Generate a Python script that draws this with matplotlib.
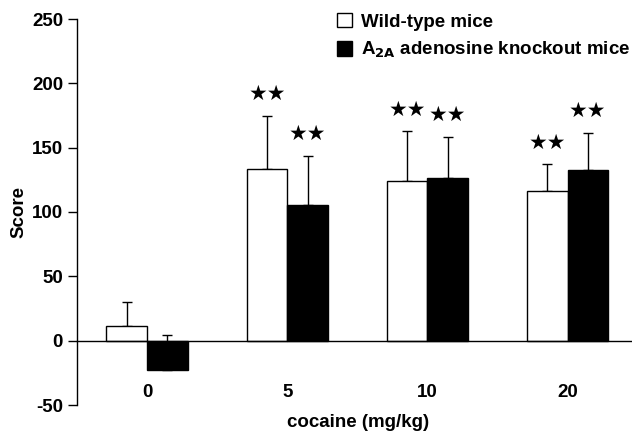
import numpy as np
import matplotlib
matplotlib.use("Agg")
import matplotlib.pyplot as plt
from matplotlib.patches import Patch

plt.rcParams["font.family"] = ["Liberation Sans", "DejaVu Sans"]
plt.rcParams["font.weight"] = "bold"
plt.rcParams["axes.unicode_minus"] = False

doses = ["0", "5", "10", "20"]
wt_mean = [11.6, 133.2, 124.4, 116.3]
wt_err = [18.8, 41.3, 38.2, 20.7]
ko_mean = [-22.5, 105.4, 126.4, 132.5]
ko_err = [26.8, 38.0, 32.2, 28.8]
wt_sig = [False, True, True, True]
ko_sig = [False, True, True, True]

fig = plt.figure(figsize=(6.32, 4.33), dpi=100)
ax = fig.add_axes([77 / 632, 28 / 433, 555 / 632, 386 / 433])

x = np.arange(len(doses))
w = 0.29
ax.bar(x - w / 2, wt_mean, w, color="white", edgecolor="black", lw=1.0, zorder=2)
ax.bar(x + w / 2, ko_mean, w, color="black", edgecolor="black", lw=1.0, zorder=2)
ax.errorbar(x - w / 2, wt_mean, yerr=[np.zeros(4), wt_err], fmt="none",
            ecolor="black", elinewidth=1.0, capsize=3.6, capthick=1.0, zorder=1)
ax.errorbar(x + w / 2, ko_mean, yerr=[np.zeros(4), ko_err], fmt="none",
            ecolor="black", elinewidth=1.0, capsize=3.6, capthick=1.0, zorder=1)

# significance stars above the error bars
for xi, m, e, s in zip(x - w / 2, wt_mean, wt_err, wt_sig):
    if s:
        ax.text(xi, m + e + 17, "\u2605\u2605", ha="center", va="center",
                fontsize=15, family="DejaVu Sans")
for xi, m, e, s in zip(x + w / 2, ko_mean, ko_err, ko_sig):
    if s:
        ax.text(xi, m + e + 17, "\u2605\u2605", ha="center", va="center",
                fontsize=15, family="DejaVu Sans")

ax.set_xlim(-0.5, 3.46)
ax.set_ylim(-50, 250)
ax.set_yticks([-50, 0, 50, 100, 150, 200, 250])
ax.set_xticks(x)
ax.set_xticklabels(doses)
ax.spines["top"].set_visible(False)
ax.spines["right"].set_visible(False)
ax.spines["bottom"].set_position(("data", 0))
ax.tick_params(axis="x", length=0, pad=31.5, labelsize=13.5)
ax.tick_params(axis="y", length=6.5, width=1, pad=3.5, labelsize=13.5)
for sp in ["left", "bottom"]:
    ax.spines[sp].set_linewidth(1.0)

ax.set_ylabel("Score", fontsize=13.5, fontweight="bold")
ax.yaxis.set_label_coords(-0.089, 0.5)
ax.set_xlabel("cocaine (mg/kg)", fontsize=13.5, fontweight="bold")
ax.xaxis.set_label_coords(0.506, -0.023)

handles = [Patch(facecolor="white", edgecolor="black", lw=1.0),
           Patch(facecolor="black", edgecolor="black", lw=1.0)]
labels = ["Wild-type mice", "A$_{\\mathbf{2A}}$ adenosine knockout mice"]
fig.legend(handles, labels, loc="upper left", bbox_to_anchor=(337 / 632, 1 - 13 / 433),
           frameon=False, fontsize=13.5, handlelength=0.8, handleheight=0.8,
           handletextpad=0.5, labelspacing=0.5, borderpad=0, borderaxespad=0)

fig.savefig("out.png", dpi=100)
